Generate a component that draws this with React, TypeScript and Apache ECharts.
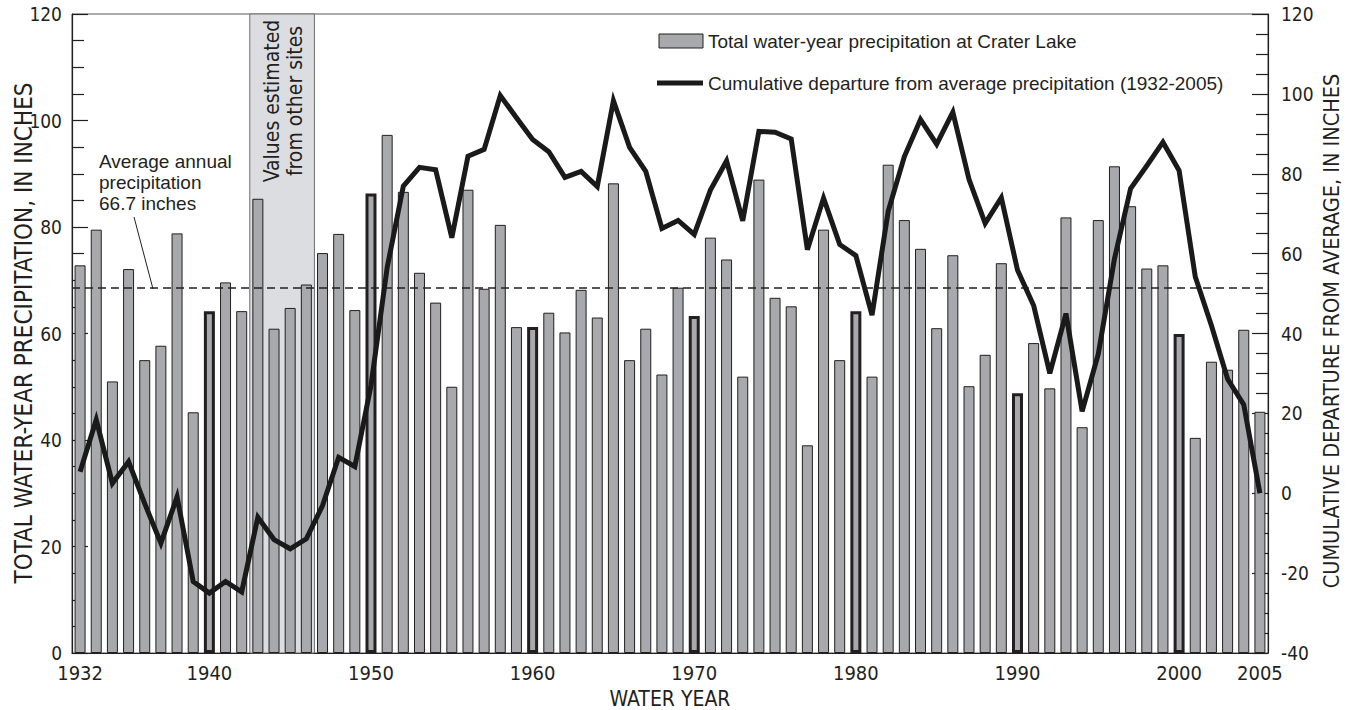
import React, { useEffect, useRef } from "react";
import * as echarts from "echarts";

// ---------- DATA ----------
const years = [
  "1932", "1933", "1934", "1935", "1936", "1937", "1938", "1939", "1940", "1941",
  "1942", "1943", "1944", "1945", "1946", "1947", "1948", "1949", "1950", "1951",
  "1952", "1953", "1954", "1955", "1956", "1957", "1958", "1959", "1960", "1961",
  "1962", "1963", "1964", "1965", "1966", "1967", "1968", "1969", "1970", "1971",
  "1972", "1973", "1974", "1975", "1976", "1977", "1978", "1979", "1980", "1981",
  "1982", "1983", "1984", "1985", "1986", "1987", "1988", "1989", "1990", "1991",
  "1992", "1993", "1994", "1995", "1996", "1997", "1998", "1999", "2000", "2001",
  "2002", "2003", "2004", "2005",
];

// Total water-year precipitation at Crater Lake (inches), left axis
const precipitation = [
  72.8, 79.5, 51.0, 72.1, 55.0, 57.7, 78.8, 45.2, 64.2, 69.6,
  64.2, 85.3, 60.9, 64.8, 69.2, 75.1, 78.7, 64.4, 86.3, 97.3,
  86.6, 71.4, 65.8, 50.0, 87.0, 68.4, 80.4, 61.2, 61.2, 63.9,
  60.2, 68.2, 63.0, 88.2, 55.0, 60.9, 52.3, 68.6, 63.3, 78.0,
  73.9, 51.9, 88.9, 66.7, 65.1, 39.0, 79.5, 55.0, 64.2, 51.9,
  91.7, 81.3, 75.9, 61.0, 74.7, 50.1, 56.0, 73.2, 48.8, 58.2,
  49.7, 81.8, 42.4, 81.3, 91.4, 83.9, 72.2, 72.8, 59.9, 40.4,
  54.7, 53.2, 60.7, 45.3,
];

// Cumulative departure from average precipitation (inches), right axis
const cumulativeDeparture = [
  5.4, 18.4, 2.5, 7.9, -2.6, -12.5, -0.9, -22.1, -25.0, -22.1,
  -24.7, -6.0, -11.6, -13.9, -11.4, -3.1, 9.0, 6.7, 27.0, 56.5,
  76.9, 81.6, 81.0, 64.0, 84.4, 86.1, 99.6, 94.0, 88.6, 85.5,
  79.1, 80.6, 76.8, 98.3, 86.6, 80.6, 66.3, 68.3, 64.8, 75.9,
  83.2, 68.2, 90.6, 90.4, 88.7, 61.0, 73.9, 62.3, 59.5, 44.6,
  70.6, 84.3, 93.6, 87.4, 95.4, 78.6, 67.6, 74.0, 55.9, 47.0,
  30.0, 45.0, 20.5, 34.9, 58.7, 76.3, 82.0, 87.9, 80.8, 54.2,
  42.0, 28.6, 22.2, 0.0,
];

const decadeYears = ["1940", "1950", "1960", "1970", "1980", "1990", "2000"];
const xLabelYears = ["1932", "1940", "1950", "1960", "1970", "1980", "1990", "2000", "2005"];
const estimatedYears = ["1943", "1946"]; // first and last year of estimated values
const averageLineLevel = [68.5];
const leftAxisRange = [0, 120];
const rightAxisRange = [-40, 120];
const axisInterval = [20];

// ---------- STYLE ----------
const INK = "#231f20";
const BAR = "#a7a9ac";
const SHADE = "#dcdde0";
const NARROW = '"Liberation Sans Narrow", "DejaVu Sans Condensed", "Noto Sans", sans-serif';
const SANS = '"Liberation Sans", "DejaVu Sans", sans-serif';

export default function App() {
  const ref = useRef<HTMLDivElement>(null);

  useEffect(() => {
    if (!ref.current) return;
    const chart = echarts.init(ref.current, undefined, { renderer: "svg" });

    const yAxisCommon = {
      type: "value",
      interval: axisInterval[0],
      axisLine: { show: true, lineStyle: { color: INK, width: 1.2 } },
      axisTick: { show: true, inside: true, length: 16, lineStyle: { color: INK, width: 1.2 } },
      minorTick: { show: true, splitNumber: 4, length: 12, lineStyle: { color: INK, width: 1.2 } },
      splitLine: { show: false },
    };

    const option: any = {
      animation: false,
      backgroundColor: "#ffffff",
      grid: {
        left: 72,
        right: 85,
        top: 14,
        bottom: 57,
        show: true,
        borderColor: "#58595b",
        borderWidth: 1,
        backgroundColor: "transparent",
      },
      xAxis: {
        type: "category",
        data: years,
        boundaryGap: true,
        axisLine: { show: true, lineStyle: { color: INK, width: 1.2 } },
        axisTick: { show: false },
        splitLine: { show: false },
        axisLabel: {
          interval: 0,
          formatter: (v: string) => (xLabelYears.includes(v) ? v : ""),
          color: INK,
          fontFamily: NARROW,
          fontSize: 20,
          margin: 10,
        },
      },
      yAxis: [
        {
          ...yAxisCommon,
          position: "left",
          min: leftAxisRange[0],
          max: leftAxisRange[1],
          axisLabel: { color: INK, fontFamily: NARROW, fontSize: 19, margin: 10 },
        },
        {
          ...yAxisCommon,
          position: "right",
          min: rightAxisRange[0],
          max: rightAxisRange[1],
          axisLabel: { color: INK, fontFamily: NARROW, fontSize: 19, margin: 13 },
        },
      ],
      series: [
        {
          type: "custom",
          name: "Values estimated from other sites",
          xAxisIndex: 0,
          yAxisIndex: 0,
          z: 1,
          silent: true,
          encode: { x: [0, 1] },
          data: [[years.indexOf(estimatedYears[0]), years.indexOf(estimatedYears[1])]],
          renderItem: (params: any, api: any) => {
            const s = api.coord([api.value(0), leftAxisRange[1]]);
            const e = api.coord([api.value(1), leftAxisRange[0]]);
            const band = api.size([1, 0])[0];
            return {
              type: "rect",
              shape: { x: s[0] - band / 2, y: s[1], width: e[0] - s[0] + band, height: e[1] - s[1] },
              style: { fill: SHADE, stroke: "#6d6e71", lineWidth: 1 },
            };
          },
        },
        {
          type: "bar",
          name: "Total water-year precipitation at Crater Lake",
          xAxisIndex: 0,
          yAxisIndex: 0,
          z: 2,
          barWidth: "68%",
          itemStyle: { color: BAR, borderColor: INK, borderWidth: 1 },
          data: precipitation.map((v, i) =>
            decadeYears.includes(years[i])
              ? { value: v, itemStyle: { color: BAR, borderColor: INK, borderWidth: 3 } }
              : { value: v }
          ),
          markLine: {
            silent: true,
            symbol: "none",
            label: { show: false },
            lineStyle: { color: INK, type: [8, 5], width: 1.5 },
            data: [{ yAxis: averageLineLevel[0] }],
          },
        },
        {
          type: "line",
          name: "Cumulative departure from average precipitation (1932-2005)",
          xAxisIndex: 0,
          yAxisIndex: 1,
          z: 10,
          symbol: "none",
          data: cumulativeDeparture,
          lineStyle: { color: "#1a1a1a", width: 5, join: "miter" },
        },
      ],
      graphic: [
        // legend
        {
          type: "rect",
          z: 100,
          shape: { x: 659, y: 34, width: 44, height: 14 },
          style: { fill: BAR, stroke: INK, lineWidth: 1 },
        },
        {
          type: "text",
          z: 100,
          x: 708,
          y: 41,
          style: {
            text: "Total water-year precipitation at Crater Lake",
            font: `19px ${SANS}`,
            fill: INK,
            textVerticalAlign: "middle",
          },
        },
        {
          type: "line",
          z: 100,
          shape: { x1: 657, y1: 83, x2: 703, y2: 83 },
          style: { stroke: "#1a1a1a", lineWidth: 5 },
        },
        {
          type: "text",
          z: 100,
          x: 708,
          y: 83,
          style: {
            text: "Cumulative departure from average precipitation (1932-2005)",
            font: `19px ${SANS}`,
            fill: INK,
            textVerticalAlign: "middle",
          },
        },
        // average annotation
        {
          type: "text",
          z: 100,
          x: 99,
          y: 151,
          style: {
            text: "Average annual\nprecipitation\n66.7 inches",
            font: `19px ${SANS}`,
            lineHeight: 21,
            fill: INK,
            textVerticalAlign: "top",
          },
        },
        {
          type: "line",
          z: 100,
          shape: { x1: 134, y1: 217, x2: 153, y2: 289 },
          style: { stroke: INK, lineWidth: 1 },
        },
        // estimated-values note
        {
          type: "text",
          z: 100,
          x: 283.5,
          y: 101,
          rotation: Math.PI / 2,
          style: {
            text: "Values estimated\nfrom other sites",
            font: `21px ${NARROW}`,
            lineHeight: 23,
            fill: INK,
            textAlign: "center",
            textVerticalAlign: "middle",
          },
        },
        // axis titles
        {
          type: "text",
          z: 100,
          x: 24,
          y: 333,
          rotation: Math.PI / 2,
          style: {
            text: "TOTAL WATER-YEAR PRECIPITATION, IN INCHES",
            font: `24px ${NARROW}`,
            fill: INK,
            textAlign: "center",
            textVerticalAlign: "middle",
          },
        },
        {
          type: "text",
          z: 100,
          x: 1331,
          y: 331,
          rotation: Math.PI / 2,
          style: {
            text: "CUMULATIVE DEPARTURE FROM AVERAGE, IN INCHES",
            font: `21.5px ${NARROW}`,
            fill: INK,
            textAlign: "center",
            textVerticalAlign: "middle",
          },
        },
        {
          type: "text",
          z: 100,
          x: 670,
          y: 699,
          style: {
            text: "WATER YEAR",
            font: `21px ${NARROW}`,
            fill: INK,
            textAlign: "center",
            textVerticalAlign: "middle",
          },
        },
      ],
    };

    chart.setOption(option);
    return () => chart.dispose();
  }, []);

  return (
    <div
      ref={ref}
      style={{ position: "fixed", left: 0, top: 0, width: 1353, height: 710, background: "#fff" }}
    />
  );
}
